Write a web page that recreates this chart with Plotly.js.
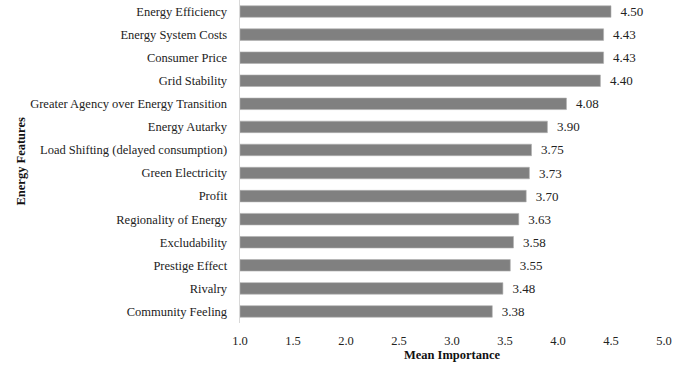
<!DOCTYPE html>
<html><head><meta charset="utf-8">
<script src="https://cdn.plot.ly/plotly-3.0.1.min.js"></script>
<style>html,body{margin:0;padding:0;background:#fff}</style>
</head><body><div id="chart" style="width:688px;height:365px"></div>
<script>
const features = ["Energy Efficiency","Energy System Costs","Consumer Price","Grid Stability","Greater Agency over Energy Transition","Energy Autarky","Load Shifting (delayed consumption)","Green Electricity","Profit","Regionality of Energy","Excludability","Prestige Effect","Rivalry","Community Feeling"];
const meanImportance = [4.50,4.43,4.43,4.40,4.08,3.90,3.75,3.73,3.70,3.63,3.58,3.55,3.48,3.38];
const xTicks = [1.0,1.5,2.0,2.5,3.0,3.5,4.0,4.5,5.0];
const xTickLabels = ["1.0","1.5","2.0","2.5","3.0","3.5","4.0","4.5","5.0"];

const font = "Liberation Serif, Times New Roman, serif";
Plotly.newPlot("chart", [{
  type: "bar",
  orientation: "h",
  y: features,
  x: meanImportance.map(v => v - 1),
  base: 1,
  text: meanImportance.map(v => "  " + v.toFixed(2)),
  textposition: "outside",
  constraintext: "none",
  cliponaxis: false,
  textfont: {family: font, size: 13, color: "#222"},
  marker: {color: "#808080", line: {color: "#b0b0b0", width: 0.6}},
  hoverinfo: "skip"
}], {
  width: 688, height: 365,
  margin: {l: 240, r: 24, t: 0, b: 42},
  paper_bgcolor: "#fff", plot_bgcolor: "#fff",
  bargap: 0.5,
  showlegend: false,
  font: {family: font, color: "#222"},
  xaxis: {
    range: [1, 5], tickvals: xTicks, ticktext: xTickLabels,
    showgrid: false, zeroline: false, showline: false, ticks: "",
    ticklabelstandoff: 8,
    tickfont: {family: font, size: 12.5, color: "#222"},
    title: {text: "<b>Mean Importance</b>", font: {family: font, size: 12.5, color: "#111"}, standoff: 0}
  },
  yaxis: {
    autorange: "reversed", showgrid: false, zeroline: false,
    showline: true, linecolor: "#d8d8d8", linewidth: 1, ticks: "",
    ticksuffix: "   ",
    tickfont: {family: font, size: 12.5, color: "#222"}
  },
  annotations: [{
    text: "<b>Energy Features</b>", xref: "paper", yref: "paper",
    x: -240/424 + 20/424, y: 0.5, xanchor: "center", yanchor: "middle",
    textangle: -90, showarrow: false,
    font: {family: font, size: 12.5, color: "#111"}
  }]
}, {staticPlot: true});
</script></body></html>
